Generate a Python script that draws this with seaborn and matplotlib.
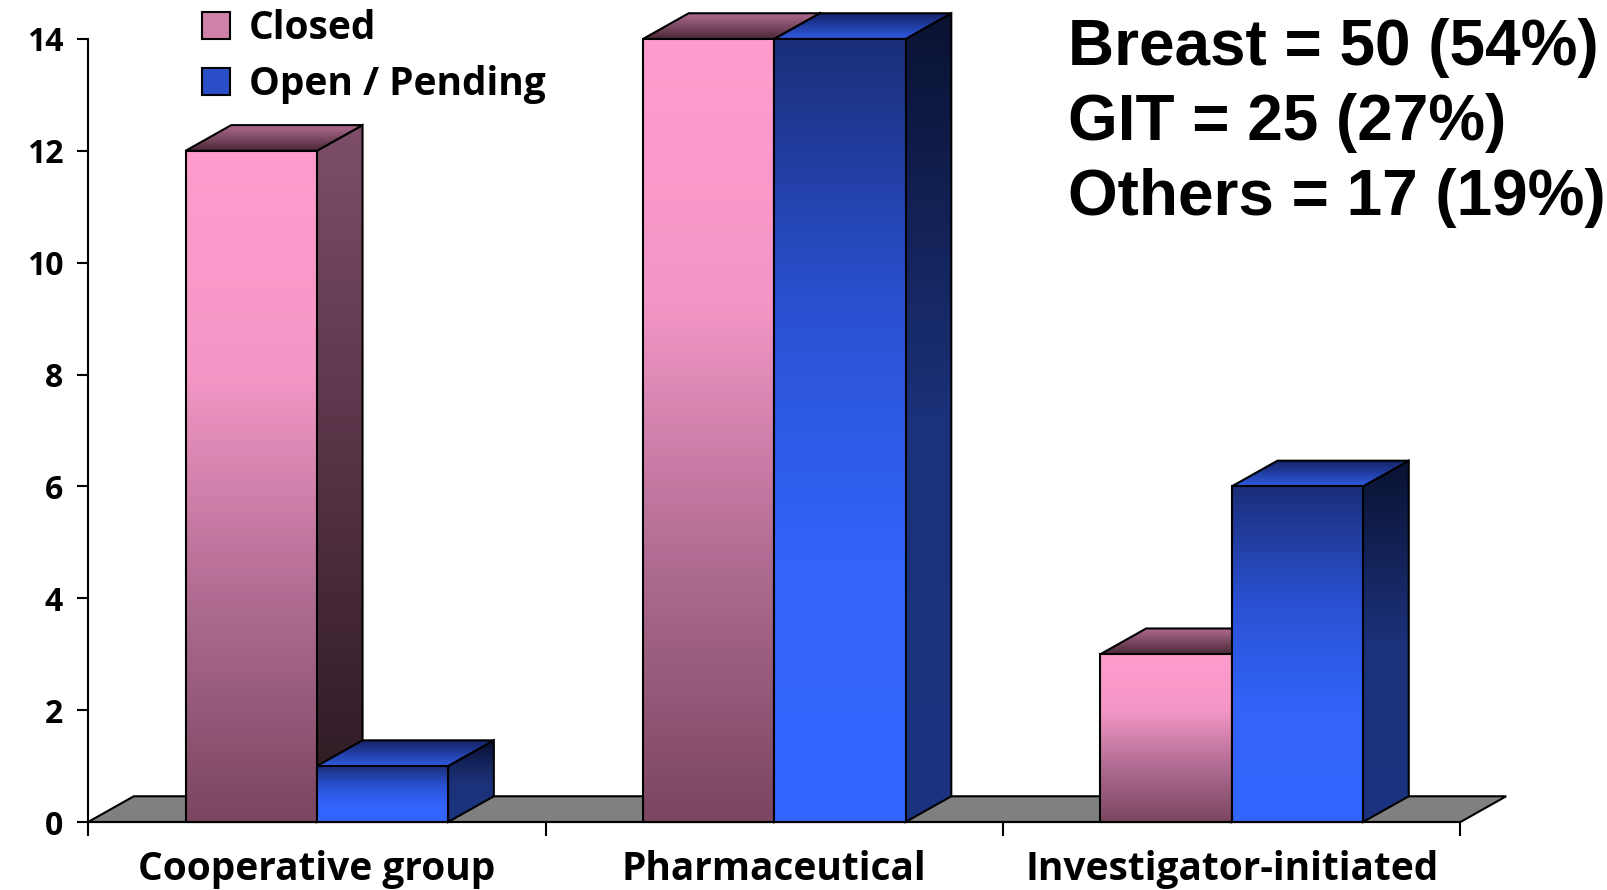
import numpy as np
import pandas as pd
import matplotlib
matplotlib.use("Agg")
import matplotlib.pyplot as plt
import seaborn as sns
from matplotlib.patches import Polygon, Patch
from matplotlib.colors import LinearSegmentedColormap

# data
categories = ["Cooperative group", "Pharmaceutical", "Investigator-initiated"]
series = ["Closed", "Open / Pending"]
closed = [12, 14, 3]
open_pending = [1, 14, 6]
y_ticks = [0, 2, 4, 6, 8, 10, 12, 14]
notes = ["Breast = 50 (54%)", "GIT = 25 (27%)", "Others = 17 (19%)"]

# colour stops, bottom -> top, for each face of the 3D bars
FACES = {
    "Closed": {
        "front": ["#7a4660", "#b06c92", "#f497c6", "#ff9ccd"],
        "side": ["#2a1820", "#553244", "#7e4e69"],
        "top": ["#4a2838", "#b06c90"],
        "legend": "#cf82a8",
    },
    "Open / Pending": {
        "front": ["#3366ff", "#3264fa", "#2a50d0", "#1a2e78"],
        "side": ["#1c3480", "#1b3179", "#0a1232"],
        "top": ["#2f5ae0", "#152266"],
        "legend": "#2a4ec8",
    },
}
DX, DY = 0.1, 0.46  # depth of the fake 3D, in data units
EDGE = dict(edgecolor="black", linewidth=1.5)


def grad_fill(ax, verts, stops, z):
    """Fill a polygon with a vertical colour gradient and a black outline."""
    poly = Polygon(verts, closed=True, facecolor="none", zorder=z + 0.5,
                   clip_on=False, **EDGE)
    ax.add_patch(poly)
    xs = [v[0] for v in verts]
    ys = [v[1] for v in verts]
    cmap = LinearSegmentedColormap.from_list("g", stops)
    grad = np.linspace(0, 1, 256).reshape(-1, 1)
    im = ax.imshow(grad, extent=(min(xs), max(xs), min(ys), max(ys)),
                   origin="lower", cmap=cmap, aspect="auto",
                   interpolation="bilinear", zorder=z)
    im.set_clip_path(poly)
    im.set_clip_box(ax.figure.bbox)
    return poly


df = pd.DataFrame({
    "category": categories * 2,
    "status": [s for s in series for _ in categories],
    "count": closed + open_pending,
})

sns.set_theme(style="white")
plt.rcParams["font.family"] = ["Open Sans", "DejaVu Sans"]
plt.rcParams["text.color"] = "black"
plt.rcParams["xtick.color"] = "black"
plt.rcParams["ytick.color"] = "black"

fig = plt.figure(figsize=(16.07, 8.9), dpi=100)
ax = fig.add_axes([0.0548, 0.0764, 0.854, 0.8798])

sns.barplot(data=df, x="category", y="count", hue="status", hue_order=series,
            palette=[FACES[s]["legend"] for s in series], saturation=1,
            width=0.574, legend=False, ax=ax, **EDGE)

# floor plate
floor = Polygon([(-0.5, 0), (2.5, 0), (2.5 + DX, DY), (-0.5 + DX, DY)],
                closed=True, facecolor="#808080", zorder=1, clip_on=False, **EDGE)
ax.add_patch(floor)

bars = []
for cont, s in zip(ax.containers, series):
    for rect in cont:
        bars.append((rect, s))
bars.sort(key=lambda b: b[0].get_x())

for k, (rect, s) in enumerate(bars):
    z = 3 + k * 3
    x0 = rect.get_x()
    x1 = x0 + rect.get_width()
    h = rect.get_height()
    f = FACES[s]
    # side face
    grad_fill(ax, [(x1, 0), (x1 + DX, DY), (x1 + DX, h + DY), (x1, h)], f["side"], z)
    # top face
    grad_fill(ax, [(x0, h), (x1, h), (x1 + DX, h + DY), (x0 + DX, h + DY)], f["top"], z + 1)
    # front face: gradient under seaborn's own rectangle outline
    cmap = LinearSegmentedColormap.from_list("f", f["front"])
    ax.imshow(np.linspace(0, 1, 256).reshape(-1, 1), extent=(x0, x1, 0, h),
              origin="lower", cmap=cmap, aspect="auto", interpolation="bilinear",
              zorder=z + 2)
    rect.set_facecolor("none")
    rect.set_zorder(z + 2.5)
    rect.set_clip_on(False)

ax.set_xlim(-0.5, 2.5)
ax.set_ylim(0, 14)
ax.set_yticks(y_ticks)
ax.set_xticks([-0.5, 0.5, 1.5, 2.5], minor=True)
ax.set_xlabel("")
ax.set_ylabel("")
ax.tick_params(axis="x", which="major", length=0, pad=20, labelsize=28, bottom=True)
ax.tick_params(axis="x", which="minor", length=10, width=1.5, direction="out",
               color="black", bottom=True)
ax.tick_params(axis="y", length=8, width=1.5, pad=10, labelsize=23, left=True,
               color="black", direction="out")
for lbl in ax.get_xticklabels() + ax.get_yticklabels():
    lbl.set_fontweight("bold")
sns.despine(ax=ax)
for side in ["left", "bottom"]:
    ax.spines[side].set_color("black")
    ax.spines[side].set_linewidth(1.5)
    ax.spines[side].set_zorder(50)

handles = [Patch(facecolor=FACES[s]["legend"], **EDGE) for s in series]
fig.legend(handles, series, loc="upper left", bbox_to_anchor=(0.109, 1.02),
           frameon=False, prop={"size": 28, "weight": "bold"},
           handlelength=0.7, handleheight=0.7, handletextpad=0.5,
           labelspacing=0.42, borderpad=0.2)

for i, note in enumerate(notes):
    fig.text(0.6646, 0.927 - i * 0.0843, note, fontsize=46, fontweight="bold",
             color="black", family=["Liberation Sans", "DejaVu Sans"],
             va="baseline")

fig.savefig("out.png", dpi=100)
